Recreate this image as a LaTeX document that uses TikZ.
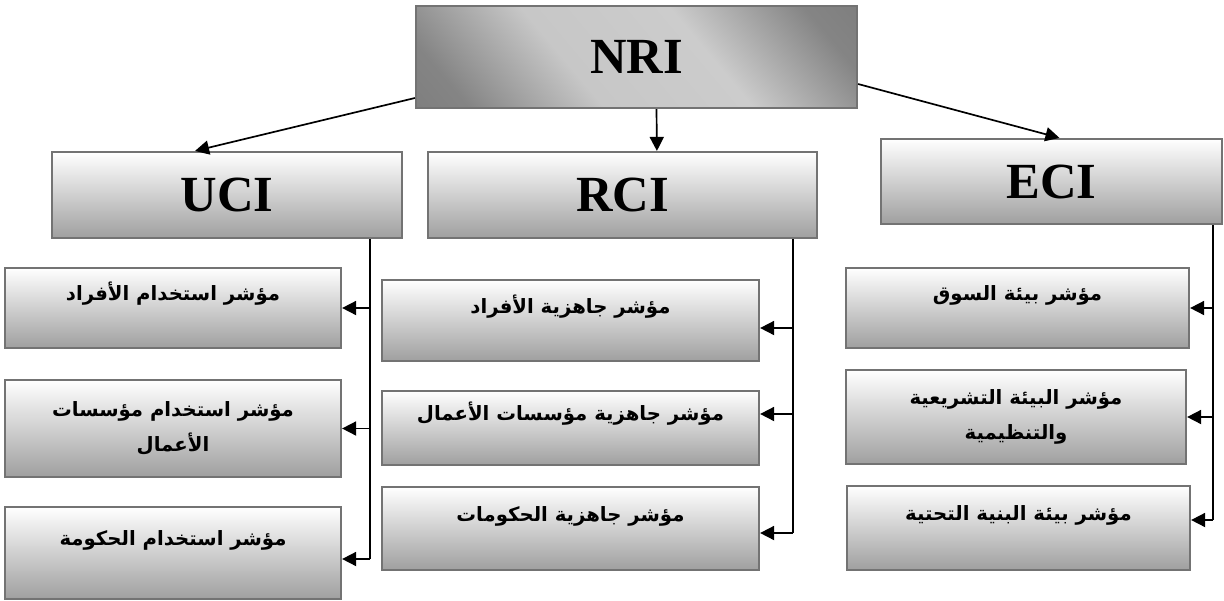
\documentclass[tikz,border=0pt]{standalone}
\usepackage{fontspec}
\usepackage{tikz}
\usetikzlibrary{arrows.meta, shapes, positioning, calc}

\newfontfamily\arabicfont[Script=Arabic]{DejaVu Sans}
\newfontfamily\headfont{Liberation Serif}
\TeXXeTstate=1
\newcommand{\artext}[1]{\beginR #1\endR}

\pgfdeclarehorizontalshading{nrishade}{100bp}{color(0bp)=(black!55); color(22bp)=(black!48); color(40bp)=(black!22); color(60bp)=(black!20); color(78bp)=(black!48); color(100bp)=(black!55)}

\begin{document}
\begin{tikzpicture}[
  x=0.025cm, y=-0.025cm,
  % --- styles ------------------------------------------------------------
  rootbox/.style={
    rectangle, draw=black!55, line width=1.5pt, inner sep=0pt,
    shading=nrishade, shading angle=40,
    font=\headfont\bfseries\fontsize{36}{40}\selectfont
  },
  groupbox/.style={
    rectangle, draw=black!55, line width=1.5pt, inner sep=0pt,
    top color=white, bottom color=gray!75,
    font=\headfont\bfseries\fontsize{36}{40}\selectfont
  },
  kidbase/.style={
    rectangle, draw=black!55, line width=1.5pt, inner sep=0pt,
    top color=white, bottom color=gray!75, align=center
  },
  kidbox/.style={
    kidbase, text height=1.1em, text depth=2.1em,
    font=\arabicfont\bfseries\fontsize{14}{19}\selectfont
  },
  kidpair/.style={
    kidbase, font=\arabicfont\bfseries\fontsize{14}{25}\selectfont
  },
  feed/.style={-{Triangle[length=10pt, width=10pt]}, line width=1.2pt},
  bus/.style={line width=1.2pt}
]
\useasboundingbox (0,0) rectangle (1224,600);

% --------------------- top and groups ------------------------------------
\node[rootbox, minimum width=11.025cm, minimum height=2.55cm] (nri) at (636.5,57) {NRI};
\node[groupbox, minimum width=8.75cm, minimum height=2.15cm] (uci) at (227,195) {UCI};
\node[groupbox, minimum width=9.725cm, minimum height=2.15cm] (rci) at (622.5,195) {RCI};
\node[groupbox, minimum width=8.525cm, minimum height=2.125cm] (eci) at (1051.5,181.5) {ECI};

% --------------------- UCI column -----------------------------------------
\node[kidbox, minimum width=8.4cm, minimum height=2cm] (u1) at (173,308) {\artext{مؤشر استخدام الأفراد}};
\node[kidpair, minimum width=8.4cm, minimum height=2.425cm] (u2) at (173,428.5) {\artext{مؤشر استخدام مؤسسات}\\\artext{الأعمال}};
\node[kidbox, minimum width=8.4cm, minimum height=2.3cm] (u3) at (173,553) {\artext{مؤشر استخدام الحكومة}};

% --------------------- RCI column -----------------------------------------
\node[kidbox, minimum width=9.425cm, minimum height=2.025cm] (r1) at (570.5,320.5) {\artext{مؤشر جاهزية الأفراد}};
\node[kidbox, minimum width=9.425cm, minimum height=1.85cm] (r2) at (570.5,428) {\artext{مؤشر جاهزية مؤسسات الأعمال}};
\node[kidbox, minimum width=9.425cm, minimum height=2.075cm] (r3) at (570.5,528.5) {\artext{مؤشر جاهزية الحكومات}};

% --------------------- ECI column -----------------------------------------
\node[kidbox, minimum width=8.575cm, minimum height=2cm] (e1) at (1017.5,308) {\artext{مؤشر بيئة السوق}};
\node[kidpair, minimum width=8.5cm, minimum height=2.35cm] (e2) at (1016,417) {\artext{مؤشر البيئة التشريعية}\\\artext{والتنظيمية}};
\node[kidbox, minimum width=8.575cm, minimum height=2.1cm] (e3) at (1018.5,528) {\artext{مؤشر بيئة البنية التحتية}};

% --------------------- NRI arrows -----------------------------------------
\draw[feed] ([yshift=-1.025cm]nri.west) -- ([xshift=-0.8cm]uci.north);
\draw[feed] ([xshift=0.5cm]nri.south) -- ([xshift=0.86cm]rci.north);
\draw[feed] ([yshift=-0.675cm]nri.east) -- ([xshift=0.2cm]eci.north);

% --------------------- buses ---------------------------------------------
\coordinate (ubus) at (370,559);
\coordinate (rbus) at (793,533);
\coordinate (ebus) at (1213,520);

\draw[bus] (uci.south -| ubus) -- (ubus);
\draw[feed] (ubus |- u1.east) -- (u1.east);
\draw[feed] (ubus |- u2.east) -- (u2.east);
\draw[feed] (ubus) -- (ubus -| u3.east);

\draw[bus] (rci.south -| rbus) -- (rbus);
\draw[feed] ($(rbus |- r1.east)+(0,7.5)$) -- ($(r1.east)+(0,7.5)$);
\draw[feed] ($(rbus |- r2.east)+(0,-14)$) -- ($(r2.east)+(0,-14)$);
\draw[feed] (rbus) -- (rbus -| r3.east);

\draw[bus] (eci.south -| ebus) -- (ebus);
\draw[feed] (ebus |- e1.east) -- (e1.east);
\draw[feed] (ebus |- e2.east) -- (e2.east);
\draw[feed] (ebus) -- (ebus -| e3.east);

\end{tikzpicture}
\end{document}
